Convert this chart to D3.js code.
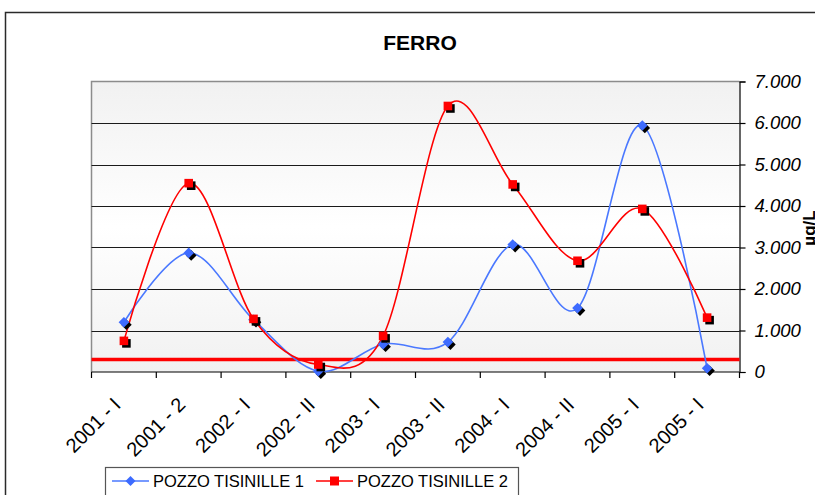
<!DOCTYPE html>
<html>
<head>
<meta charset="utf-8">
<script src="https://cdn.jsdelivr.net/npm/d3@7"></script>
<style>
  html, body { margin: 0; padding: 0; background: #fff; overflow: hidden; }
  svg { display: block; font-family: "Liberation Sans", Arial, sans-serif; }
</style>
</head>
<body>
<svg id="chart" width="815" height="495"></svg>
<script>
// Sampling periods
const categories = ["2001 - I", "2001 - 2", "2002 - I", "2002 - II", "2003 - I",
                    "2003 - II", "2004 - I", "2004 - II", "2005 - I", "2005 - I"];
// Iron concentration (µg/L) for each well
const pozzo1 = [1200, 2870, 1260, 20, 670, 720, 3070, 1540, 5940, 90];
const pozzo2 = [750, 4550, 1280, 180, 870, 6410, 4520, 2680, 3930, 1310];
const seriesNames = ["POZZO TISINILLE 1", "POZZO TISINILLE 2"];
// Limit value
const limitValue = 300;
const yTicks = [0, 1000, 2000, 3000, 4000, 5000, 6000, 7000];

const svg = d3.select("#chart");
const plot = { left: 91.5, right: 739.5, top: 81.5, bottom: 372 };

const itLocale = d3.formatLocale({ decimal: ",", thousands: ".", grouping: [3], currency: ["€", ""] });
const fmt = itLocale.format(",d");

// Outer chart frame (runs past the right and bottom edges)
svg.append("rect")
  .attr("x", 5.5).attr("y", 12.5)
  .attr("width", 830).attr("height", 500)
  .attr("fill", "#fff").attr("stroke", "#2a2a2a").attr("stroke-width", 1.5);

// Title
svg.append("text")
  .attr("x", 420).attr("y", 50)
  .attr("text-anchor", "middle")
  .attr("font-weight", "bold").attr("font-size", 21)
  .attr("fill", "#000")
  .text("FERRO");

const x = d3.scaleBand().domain(d3.range(categories.length))
  .range([plot.left, plot.right]).padding(0);
const y = d3.scaleLinear().domain([0, 7000]).range([plot.bottom, plot.top]);

// Plot background gradient
const defs = svg.append("defs");
const grad = defs.append("linearGradient").attr("id", "bg")
  .attr("x1", 0).attr("y1", 0).attr("x2", 0).attr("y2", 1);
grad.append("stop").attr("offset", "0%").attr("stop-color", "#f1f1f1");
grad.append("stop").attr("offset", "50%").attr("stop-color", "#ffffff");
grad.append("stop").attr("offset", "100%").attr("stop-color", "#f1f1f1");

svg.append("rect")
  .attr("x", plot.left).attr("y", plot.top)
  .attr("width", plot.right - plot.left).attr("height", plot.bottom - plot.top)
  .attr("fill", "url(#bg)");

// Plot border (left and top in gray)
svg.append("path")
  .attr("d", `M${plot.left},${plot.bottom}V${plot.top}H${plot.right}`)
  .attr("fill", "none").attr("stroke", "#8c8c8c").attr("stroke-width", 1.5);

// Horizontal gridlines
svg.append("g").selectAll("line")
  .data(yTicks.filter(t => t > 0 && t < 7000))
  .join("line")
  .attr("x1", plot.left).attr("x2", plot.right)
  .attr("y1", d => Math.round(y(d)) + 0.5).attr("y2", d => Math.round(y(d)) + 0.5)
  .attr("stroke", "#1a1a1a").attr("stroke-width", 1.2);

// Right value axis
const yAxis = d3.axisRight(y).tickValues(yTicks).tickFormat(fmt).tickSize(6).tickPadding(9);
const gy = svg.append("g").attr("transform", `translate(${plot.right},0)`).call(yAxis);
gy.select(".domain").attr("stroke", "#000").attr("stroke-width", 1.2);
gy.selectAll(".tick line").attr("stroke", "#000").attr("stroke-width", 1.2);
gy.selectAll("text")
  .attr("font-size", 18.5).attr("font-style", "italic")
  .attr("font-family", "'Liberation Sans', Arial, sans-serif")
  .attr("fill", "#000");

// Value axis title
svg.append("text")
  .attr("transform", `translate(815,228) rotate(-90)`)
  .attr("text-anchor", "middle")
  .attr("font-weight", "bold").attr("font-size", 17)
  .attr("fill", "#000")
  .text("µg/L");

// Category axis
const tickPos = d3.range(categories.length + 1).map(i => plot.left + i * x.bandwidth());
svg.append("line")
  .attr("x1", plot.left).attr("x2", plot.right)
  .attr("y1", plot.bottom).attr("y2", plot.bottom)
  .attr("stroke", "#000").attr("stroke-width", 1.2);
svg.append("g").selectAll("line").data(tickPos).join("line")
  .attr("x1", d => d).attr("x2", d => d)
  .attr("y1", plot.bottom).attr("y2", plot.bottom + 6)
  .attr("stroke", "#000").attr("stroke-width", 1.2);

svg.append("g").selectAll("text").data(categories).join("text")
  .attr("transform", (d, i) => `translate(${x(i) + x.bandwidth() / 2 - 7},${plot.bottom + 29}) rotate(-45)`)
  .attr("text-anchor", "end")
  .attr("dy", "0.35em")
  .attr("font-size", 20)
  .attr("fill", "#000")
  .text(d => d);

// Limit line
svg.append("line")
  .attr("x1", plot.left).attr("x2", plot.right)
  .attr("y1", y(limitValue)).attr("y2", y(limitValue))
  .attr("stroke", "#ff0000").attr("stroke-width", 3.5);

const cx = i => x(i) + x.bandwidth() / 2;
const line = d3.line().x((d, i) => cx(i)).y(d => y(d)).curve(d3.curveCardinal.tension(0));

const colors = ["#3d6bff", "#ff0000"];
const lineColors = ["#4a78ff", "#ff0000"];

[pozzo1, pozzo2].forEach((vals, s) => {
  svg.append("path")
    .datum(vals)
    .attr("d", line)
    .attr("fill", "none")
    .attr("stroke", lineColors[s])
    .attr("stroke-width", 1.6);
});

// Markers with drop shadows
const diamond = r => `M0,${-r}L${r},0L0,${r}L${-r},0Z`;
const square = r => `M${-r},${-r}H${r}V${r}H${-r}Z`;
[pozzo1, pozzo2].forEach((vals, s) => {
  const shape = s === 0 ? diamond(5.3) : square(4.3);
  const g = svg.append("g");
  g.selectAll("path.shadow").data(vals).join("path")
    .attr("class", "shadow")
    .attr("transform", (d, i) => `translate(${cx(i) + 2.5},${y(d) + 2.5})`)
    .attr("d", shape).attr("fill", "#000");
  g.selectAll("path.mark").data(vals).join("path")
    .attr("class", "mark")
    .attr("transform", (d, i) => `translate(${cx(i)},${y(d)})`)
    .attr("d", shape).attr("fill", colors[s]);
});

// Legend
const legend = svg.append("g");
legend.append("rect")
  .attr("x", 105.5).attr("y", 467.5).attr("width", 413).attr("height", 40)
  .attr("fill", "#fff").attr("stroke", "#555").attr("stroke-width", 1.2);
const legendItems = [
  { x0: 112, x1: 149, tx: 153, shape: diamond(5), color: colors[0], lc: lineColors[0] },
  { x0: 316, x1: 353, tx: 357, shape: square(4.5), color: colors[1], lc: lineColors[1] }
];
const ly = 481;
legendItems.forEach((it, k) => {
  legend.append("line")
    .attr("x1", it.x0).attr("x2", it.x1).attr("y1", ly).attr("y2", ly)
    .attr("stroke", it.lc).attr("stroke-width", 1.6);
  legend.append("path")
    .attr("transform", `translate(${(it.x0 + it.x1) / 2},${ly})`)
    .attr("d", it.shape).attr("fill", it.color);
  legend.append("text")
    .attr("x", it.tx).attr("y", 487)
    .attr("font-size", 16.5).attr("fill", "#000")
    .text(seriesNames[k]);
});
</script>
</body>
</html>
